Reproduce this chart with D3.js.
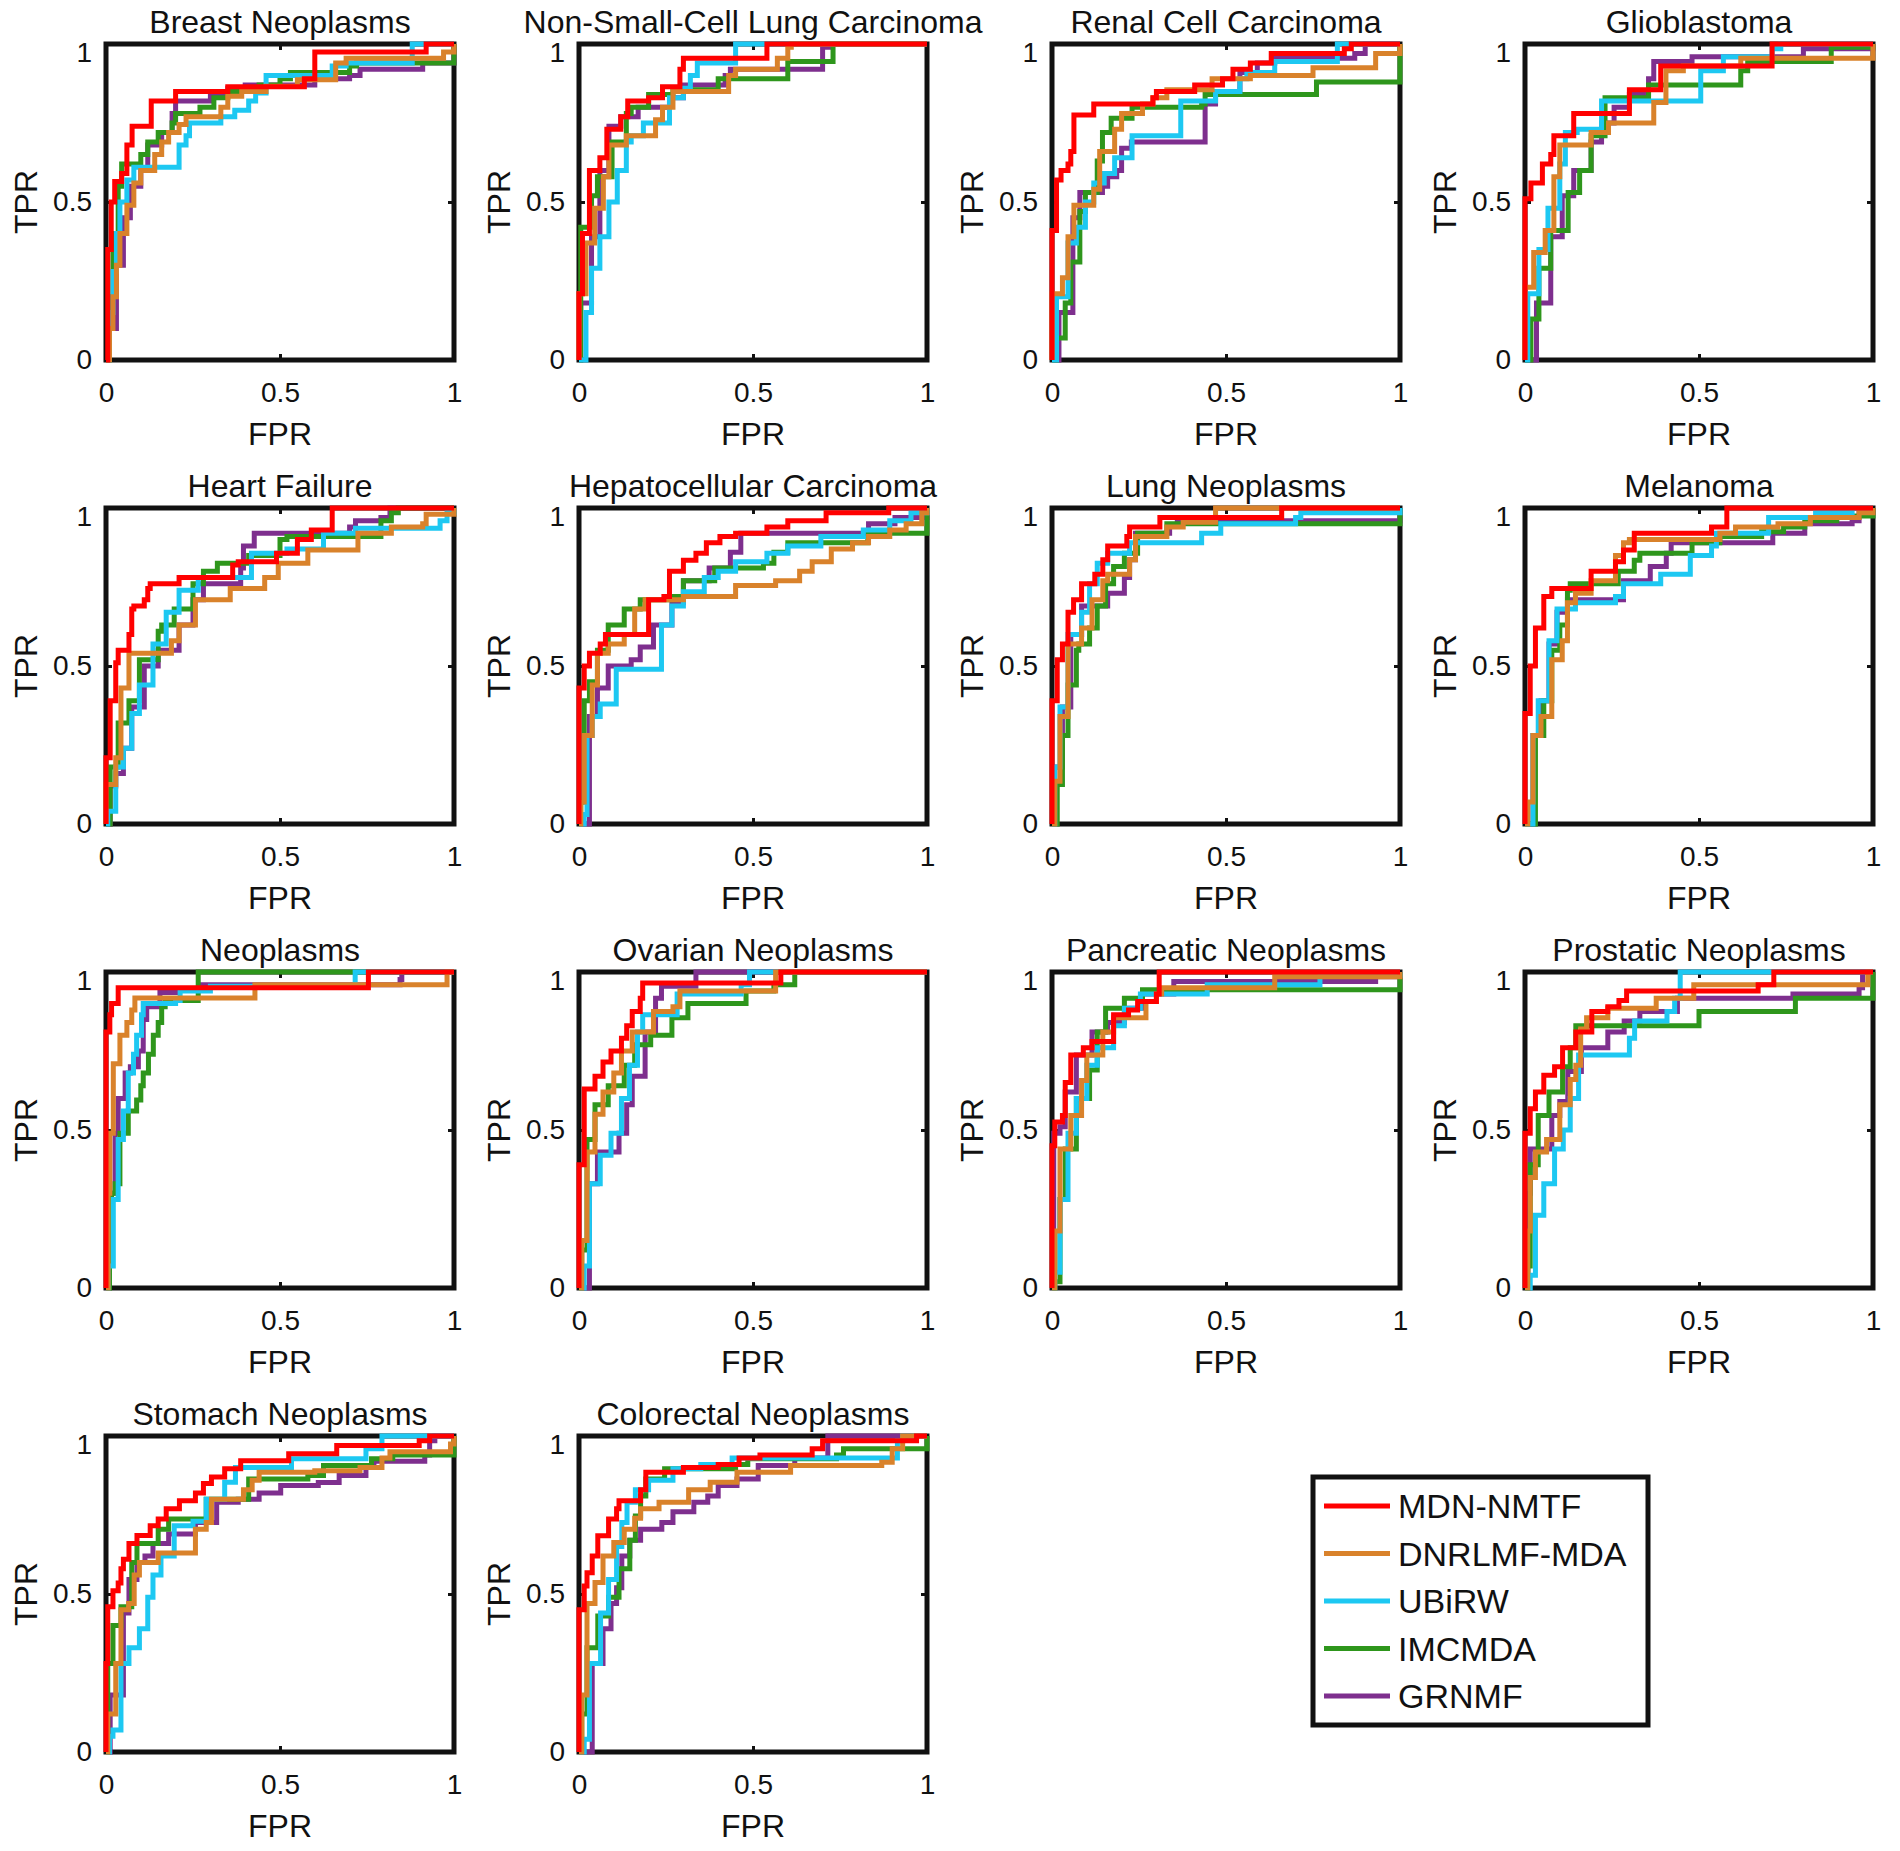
<!DOCTYPE html>
<html>
<head>
<meta charset="utf-8">
<script src="https://cdn.jsdelivr.net/npm/d3@7"></script>
<style>
  html, body { margin: 0; padding: 0; background: #fff; }
  svg { display: block; font-family: "Liberation Sans", Arial, sans-serif; }
</style>
</head>
<body>
<svg id="chart" width="1900" height="1851"></svg>
<script>
// ---------------- data ----------------
const methods = ["MDN-NMTF", "DNRLMF-MDA", "UBiRW", "IMCMDA", "GRNMF"];
const diseases = ["Breast Neoplasms", "Non-Small-Cell Lung Carcinoma", "Renal Cell Carcinoma", "Glioblastoma",
  "Heart Failure", "Hepatocellular Carcinoma", "Lung Neoplasms", "Melanoma",
  "Neoplasms", "Ovarian Neoplasms", "Pancreatic Neoplasms", "Prostatic Neoplasms",
  "Stomach Neoplasms", "Colorectal Neoplasms"];
const tickValues = [0, 0.5, 1];
const tickLabels = ["0", "0.5", "1"];

// each series: flat list of (FPR, TPR) pairs; order = methods
const breastNeoplasms = [
  [0,0, 0.005,0.35, 0.015,0.5, 0.025,0.565, 0.045,0.59, 0.06,0.68, 0.075,0.74, 0.13,0.82, 0.2,0.85, 0.35,0.865, 0.57,0.89, 0.6,0.975, 0.92,1, 1,1],
  [0,0, 0.01,0.1, 0.02,0.2, 0.03,0.3, 0.04,0.4, 0.06,0.49, 0.08,0.56, 0.1,0.6, 0.14,0.65, 0.16,0.69, 0.18,0.72, 0.21,0.745, 0.23,0.77, 0.33,0.8, 0.35,0.835, 0.39,0.85, 0.46,0.866, 0.55,0.887, 0.66,0.94, 0.69,0.955, 0.97,0.975, 1,1],
  [0,0, 0.01,0.15, 0.02,0.28, 0.03,0.4, 0.04,0.5, 0.06,0.57, 0.08,0.61, 0.21,0.68, 0.23,0.71, 0.24,0.75, 0.33,0.77, 0.37,0.79, 0.41,0.82, 0.43,0.845, 0.46,0.9, 0.65,0.93, 0.69,0.94, 0.88,1, 1,1],
  [0,0, 0.01,0.2, 0.02,0.4, 0.035,0.55, 0.045,0.62, 0.1,0.65, 0.12,0.69, 0.15,0.72, 0.19,0.75, 0.2,0.78, 0.27,0.8, 0.31,0.83, 0.35,0.85, 0.44,0.87, 0.5,0.89, 0.53,0.91, 0.7,0.93, 0.72,0.94, 1,0.95, 1,1],
  [0,0, 0.01,0.1, 0.03,0.3, 0.05,0.45, 0.07,0.55, 0.1,0.6, 0.12,0.68, 0.16,0.72, 0.19,0.78, 0.2,0.82, 0.3,0.84, 0.35,0.86, 0.4,0.87, 0.6,0.89, 0.7,0.9, 0.73,0.92, 0.91,0.94, 1,0.96, 1,1]
];
const nonSmallCellLung = [
  [0,0, 0,0.21, 0.01,0.4, 0.03,0.6, 0.06,0.64, 0.08,0.73, 0.12,0.77, 0.14,0.82, 0.2,0.83, 0.24,0.865, 0.29,0.92, 0.3,0.955, 0.54,1, 1,1],
  [0,0, 0,0.21, 0.02,0.37, 0.045,0.48, 0.07,0.58, 0.086,0.68, 0.136,0.71, 0.22,0.76, 0.24,0.8, 0.27,0.85, 0.43,0.9, 0.45,0.92, 0.57,0.955, 0.6,0.99, 0.61,1, 1,1],
  [0,0, 0.02,0.15, 0.036,0.29, 0.06,0.39, 0.086,0.5, 0.11,0.6, 0.136,0.69, 0.15,0.71, 0.185,0.75, 0.26,0.83, 0.3,0.86, 0.32,0.9, 0.34,0.94, 0.45,1, 1,1],
  [0,0, 0.005,0.42, 0.036,0.52, 0.053,0.58, 0.095,0.69, 0.136,0.78, 0.15,0.8, 0.2,0.84, 0.27,0.855, 0.4,0.89, 0.6,0.945, 0.73,1, 1,1],
  [0,0, 0.005,0.18, 0.036,0.39, 0.06,0.6, 0.086,0.74, 0.12,0.77, 0.17,0.8, 0.26,0.83, 0.3,0.87, 0.42,0.9, 0.435,0.92, 0.7,0.99, 0.72,1, 1,1]
];
const renalCell = [
  [0,0, 0,0.41, 0.013,0.57, 0.026,0.6, 0.046,0.62, 0.054,0.66, 0.063,0.775, 0.12,0.81, 0.29,0.83, 0.3,0.85, 0.41,0.87, 0.49,0.89, 0.52,0.92, 0.57,0.94, 0.63,0.97, 0.84,0.985, 0.86,1, 1,1],
  [0,0, 0,0.21, 0.03,0.26, 0.046,0.39, 0.063,0.49, 0.12,0.54, 0.137,0.66, 0.18,0.73, 0.2,0.78, 0.26,0.81, 0.29,0.83, 0.33,0.855, 0.46,0.89, 0.57,0.9, 0.75,0.925, 0.93,0.97, 1,1],
  [0,0, 0.013,0.2, 0.046,0.37, 0.07,0.42, 0.096,0.5, 0.12,0.56, 0.15,0.59, 0.18,0.64, 0.23,0.71, 0.37,0.82, 0.42,0.82, 0.47,0.85, 0.54,0.89, 0.56,0.91, 0.64,0.945, 0.82,1, 1,1],
  [0,0, 0.013,0.07, 0.038,0.18, 0.054,0.31, 0.08,0.47, 0.096,0.53, 0.13,0.63, 0.145,0.72, 0.17,0.765, 0.23,0.8, 0.43,0.81, 0.44,0.84, 0.76,0.88, 1,0.88, 1,1],
  [0,0, 0.02,0.15, 0.06,0.45, 0.08,0.53, 0.145,0.55, 0.16,0.58, 0.186,0.6, 0.2,0.67, 0.228,0.69, 0.42,0.69, 0.44,0.81, 0.47,0.84, 0.54,0.91, 0.59,0.94, 0.64,0.955, 0.87,0.97, 0.9,1, 1,1]
];
const glioblastoma = [
  [0,0, 0,0.51, 0.017,0.56, 0.05,0.62, 0.074,0.65, 0.083,0.71, 0.14,0.78, 0.3,0.855, 0.39,0.93, 0.71,1, 1,1],
  [0,0, 0,0.23, 0.025,0.34, 0.058,0.41, 0.083,0.58, 0.1,0.68, 0.19,0.72, 0.24,0.75, 0.37,0.815, 0.405,0.915, 0.455,0.93, 0.62,0.955, 1,0.965, 1,1],
  [0,0, 0.008,0.21, 0.04,0.35, 0.066,0.48, 0.1,0.62, 0.116,0.72, 0.15,0.73, 0.22,0.82, 0.5,0.82, 0.505,0.915, 0.57,0.96, 0.71,0.985, 0.735,1, 1,1],
  [0,0, 0.017,0.13, 0.04,0.29, 0.074,0.41, 0.124,0.53, 0.157,0.6, 0.19,0.71, 0.23,0.83, 0.355,0.87, 0.62,0.915, 0.64,0.945, 0.88,0.99, 1,1],
  [0,0, 0.017,0, 0.033,0.18, 0.074,0.39, 0.107,0.52, 0.14,0.6, 0.19,0.69, 0.22,0.75, 0.256,0.8, 0.3,0.84, 0.355,0.89, 0.37,0.945, 0.48,0.96, 0.8,0.985, 1,1]
];
const heartFailure = [
  [0,0, 0,0.21, 0.012,0.39, 0.028,0.51, 0.035,0.55, 0.066,0.6, 0.074,0.68, 0.08,0.69, 0.11,0.71, 0.12,0.745, 0.127,0.76, 0.21,0.78, 0.364,0.82, 0.38,0.83, 0.49,0.857, 0.55,0.9, 0.59,0.93, 0.65,1, 1,1],
  [0,0, 0,0.125, 0.028,0.21, 0.043,0.43, 0.066,0.54, 0.188,0.58, 0.21,0.63, 0.257,0.71, 0.357,0.745, 0.456,0.78, 0.495,0.825, 0.58,0.867, 0.724,0.92, 0.82,0.94, 0.91,0.95, 0.92,0.98, 1,0.985, 1,1],
  [0,0, 0.005,0.04, 0.028,0.18, 0.05,0.24, 0.074,0.35, 0.096,0.44, 0.135,0.57, 0.173,0.67, 0.21,0.74, 0.265,0.78, 0.418,0.857, 0.52,0.87, 0.625,0.92, 0.717,0.936, 0.96,0.96, 0.98,0.985, 1,1],
  [0,0, 0.012,0.18, 0.035,0.32, 0.066,0.39, 0.096,0.52, 0.15,0.61, 0.16,0.63, 0.196,0.68, 0.25,0.76, 0.28,0.8, 0.32,0.825, 0.41,0.85, 0.5,0.9, 0.52,0.91, 0.79,0.96, 0.82,0.985, 0.84,1, 1,1],
  [0,0, 0.005,0, 0.012,0.12, 0.028,0.16, 0.05,0.24, 0.074,0.37, 0.11,0.5, 0.15,0.55, 0.21,0.63, 0.25,0.71, 0.28,0.76, 0.387,0.81, 0.395,0.88, 0.426,0.92, 0.7,0.94, 0.717,0.96, 0.79,0.97, 0.816,1, 1,1]
];
const hepatocellular = [
  [0,0, 0,0.43, 0.015,0.5, 0.03,0.54, 0.061,0.57, 0.076,0.6, 0.2,0.71, 0.244,0.72, 0.26,0.8, 0.3,0.835, 0.336,0.857, 0.366,0.89, 0.405,0.91, 0.45,0.92, 0.54,0.94, 0.6,0.96, 0.71,0.985, 0.89,1, 1,1],
  [0,0, 0.005,0.07, 0.015,0.28, 0.038,0.44, 0.053,0.54, 0.084,0.57, 0.13,0.6, 0.16,0.68, 0.19,0.71, 0.3,0.72, 0.45,0.755, 0.565,0.77, 0.634,0.8, 0.67,0.83, 0.725,0.87, 0.786,0.89, 0.832,0.91, 0.893,0.93, 0.94,0.95, 0.985,0.985, 1,1],
  [0,0, 0.015,0.03, 0.023,0.28, 0.038,0.34, 0.061,0.38, 0.107,0.49, 0.237,0.63, 0.267,0.69, 0.3,0.735, 0.36,0.78, 0.4,0.8, 0.45,0.83, 0.54,0.857, 0.6,0.88, 0.695,0.91, 0.817,0.93, 0.893,0.96, 0.954,0.985, 1,1],
  [0,0, 0.005,0.07, 0.015,0.39, 0.03,0.45, 0.053,0.55, 0.084,0.63, 0.13,0.68, 0.176,0.71, 0.27,0.72, 0.3,0.77, 0.39,0.81, 0.53,0.825, 0.56,0.86, 0.6,0.89, 0.83,0.92, 1,0.93, 1,1],
  [0,0, 0.008,0, 0.03,0.34, 0.053,0.43, 0.084,0.5, 0.15,0.52, 0.176,0.56, 0.214,0.63, 0.267,0.7, 0.3,0.77, 0.374,0.81, 0.435,0.86, 0.465,0.92, 0.756,0.92, 0.832,0.95, 0.908,0.97, 1,0.99, 1,1]
];
const lungNeoplasms = [
  [0,0, 0,0.39, 0.015,0.52, 0.03,0.57, 0.046,0.67, 0.062,0.71, 0.085,0.76, 0.123,0.79, 0.146,0.836, 0.16,0.88, 0.215,0.91, 0.223,0.94, 0.31,0.97, 0.66,1, 1,1],
  [0,0, 0.008,0.135, 0.023,0.34, 0.046,0.57, 0.085,0.62, 0.115,0.71, 0.146,0.77, 0.16,0.79, 0.223,0.836, 0.24,0.91, 0.33,0.94, 0.377,0.955, 0.47,1, 1,1],
  [0,0, 0.008,0.18, 0.023,0.37, 0.046,0.6, 0.085,0.67, 0.108,0.76, 0.13,0.825, 0.16,0.857, 0.223,0.89, 0.43,0.92, 0.485,0.95, 0.7,0.97, 0.715,0.985, 1,0.99, 1,1],
  [0,0, 0.015,0.125, 0.03,0.28, 0.046,0.44, 0.07,0.55, 0.077,0.57, 0.108,0.62, 0.13,0.69, 0.154,0.76, 0.177,0.815, 0.208,0.857, 0.246,0.92, 0.33,0.95, 1,0.97, 1,1],
  [0,0, 0.008,0.18, 0.03,0.37, 0.054,0.6, 0.085,0.69, 0.16,0.73, 0.208,0.78, 0.223,0.836, 0.24,0.92, 0.338,0.947, 0.36,0.96, 1,0.96, 1,1]
];
const melanoma = [
  [0,0, 0,0.35, 0.015,0.5, 0.03,0.62, 0.054,0.72, 0.077,0.745, 0.19,0.8, 0.26,0.83, 0.283,0.867, 0.314,0.92, 0.536,0.94, 0.58,1, 1,1],
  [0,0, 0.008,0.07, 0.023,0.28, 0.046,0.34, 0.077,0.52, 0.107,0.58, 0.122,0.7, 0.145,0.73, 0.19,0.77, 0.26,0.85, 0.283,0.89, 0.3,0.9, 0.56,0.92, 0.605,0.94, 0.727,0.95, 0.82,0.97, 0.96,0.985, 1,1],
  [0,0, 0.015,0, 0.023,0.28, 0.038,0.39, 0.069,0.58, 0.092,0.68, 0.145,0.7, 0.26,0.72, 0.283,0.76, 0.39,0.79, 0.475,0.85, 0.536,0.88, 0.55,0.92, 0.7,0.97, 0.835,0.985, 0.94,1, 1,1],
  [0,0, 0.015,0, 0.03,0.28, 0.054,0.39, 0.077,0.55, 0.1,0.63, 0.122,0.74, 0.13,0.76, 0.268,0.8, 0.314,0.835, 0.33,0.857, 0.48,0.89, 0.56,0.91, 0.68,0.925, 0.743,0.94, 0.804,0.96, 0.896,0.975, 1,0.985, 1,1],
  [0,0, 0.015,0, 0.023,0.28, 0.046,0.39, 0.069,0.57, 0.092,0.67, 0.122,0.71, 0.283,0.77, 0.36,0.815, 0.406,0.857, 0.42,0.89, 0.712,0.92, 0.804,0.95, 0.94,0.96, 0.96,0.985, 1,1]
];
const neoplasms = [
  [0,0, 0,0.81, 0.011,0.865, 0.016,0.9, 0.035,0.95, 0.754,1, 1,1],
  [0,0, 0.006,0.3, 0.011,0.49, 0.021,0.71, 0.04,0.8, 0.06,0.84, 0.074,0.88, 0.083,0.918, 0.428,0.96, 0.98,1, 1,1],
  [0,0, 0.006,0.07, 0.021,0.28, 0.035,0.47, 0.05,0.56, 0.064,0.68, 0.079,0.74, 0.088,0.8, 0.102,0.865, 0.107,0.9, 0.2,0.91, 0.213,0.94, 0.3,0.955, 0.716,1, 1,1],
  [0,0, 0.01,0.12, 0.016,0.3, 0.026,0.33, 0.04,0.49, 0.064,0.56, 0.088,0.595, 0.1,0.64, 0.107,0.68, 0.122,0.74, 0.136,0.8, 0.15,0.84, 0.16,0.89, 0.17,0.91, 0.265,1, 1,1],
  [0,0, 0.006,0.1, 0.015,0.3, 0.026,0.49, 0.035,0.6, 0.055,0.68, 0.07,0.7, 0.093,0.75, 0.107,0.85, 0.117,0.89, 0.155,0.935, 0.2,0.945, 0.27,0.96, 0.845,0.976, 0.85,1, 1,1]
];
const ovarianNeoplasms = [
  [0,0, 0,0.39, 0.015,0.63, 0.046,0.67, 0.069,0.715, 0.092,0.75, 0.122,0.79, 0.137,0.83, 0.153,0.875, 0.176,0.917, 0.183,0.965, 0.58,1, 1,1],
  [0,0, 0.008,0.15, 0.023,0.43, 0.046,0.55, 0.069,0.62, 0.1,0.68, 0.122,0.75, 0.153,0.81, 0.214,0.875, 0.27,0.89, 0.29,0.94, 0.565,1, 1,1],
  [0,0, 0.015,0.07, 0.03,0.33, 0.061,0.42, 0.092,0.49, 0.122,0.6, 0.145,0.705, 0.168,0.81, 0.183,0.865, 0.282,0.93, 0.466,0.96, 0.49,1, 1,1],
  [0,0, 0.008,0.12, 0.023,0.47, 0.046,0.58, 0.084,0.64, 0.13,0.705, 0.16,0.77, 0.206,0.8, 0.267,0.855, 0.313,0.9, 0.48,0.94, 0.56,0.96, 0.62,1, 1,1],
  [0,0, 0.015,0, 0.03,0.33, 0.053,0.43, 0.115,0.49, 0.137,0.58, 0.153,0.67, 0.19,0.81, 0.22,0.917, 0.237,0.955, 0.336,1, 1,1]
];
const pancreaticNeoplasms = [
  [0,0, 0,0.45, 0.008,0.525, 0.03,0.546, 0.038,0.65, 0.054,0.737, 0.09,0.76, 0.115,0.78, 0.177,0.865, 0.22,0.88, 0.246,0.907, 0.3,0.93, 0.308,1, 1,1],
  [0,0, 0.008,0.18, 0.023,0.44, 0.054,0.546, 0.085,0.657, 0.1,0.737, 0.146,0.81, 0.177,0.855, 0.27,0.907, 0.3,0.93, 0.315,0.95, 0.64,0.985, 1,0.99, 1,1],
  [0,0, 0.008,0.05, 0.023,0.28, 0.046,0.49, 0.07,0.6, 0.1,0.705, 0.13,0.76, 0.177,0.83, 0.208,0.885, 0.254,0.93, 0.446,0.96, 0.77,0.99, 1,1],
  [0,0, 0.008,0.02, 0.023,0.28, 0.038,0.44, 0.07,0.6, 0.108,0.69, 0.13,0.81, 0.154,0.885, 0.208,0.917, 0.26,0.944, 1,0.944, 1,1],
  [0,0, 0.005,0.49, 0.023,0.51, 0.038,0.62, 0.07,0.737, 0.115,0.81, 0.16,0.84, 0.208,0.885, 0.26,0.93, 0.35,0.97, 0.93,0.985, 1,1]
];
const prostaticNeoplasms = [
  [0,0, 0,0.49, 0.015,0.567, 0.03,0.62, 0.054,0.673, 0.085,0.7, 0.108,0.76, 0.146,0.81, 0.192,0.875, 0.238,0.89, 0.27,0.91, 0.292,0.94, 0.67,0.96, 0.715,1, 1,1],
  [0,0, 0.008,0.18, 0.015,0.35, 0.03,0.43, 0.062,0.47, 0.1,0.58, 0.13,0.66, 0.146,0.705, 0.16,0.82, 0.177,0.855, 0.238,0.885, 0.377,0.917, 0.485,0.96, 0.985,1, 1,1],
  [0,0, 0.015,0.04, 0.03,0.23, 0.054,0.33, 0.085,0.44, 0.11,0.5, 0.13,0.6, 0.154,0.737, 0.3,0.79, 0.315,0.845, 0.408,0.875, 0.43,0.917, 0.446,1, 1,1],
  [0,0, 0.008,0.07, 0.015,0.39, 0.038,0.546, 0.069,0.62, 0.108,0.7, 0.13,0.76, 0.146,0.83, 0.5,0.875, 0.777,0.917, 1,0.93, 1,1],
  [0,0, 0.008,0.3, 0.015,0.44, 0.054,0.44, 0.077,0.546, 0.1,0.59, 0.123,0.685, 0.162,0.76, 0.238,0.81, 0.285,0.845, 0.33,0.875, 0.438,0.917, 0.77,0.93, 0.96,0.95, 0.97,1, 1,1]
];
const stomachNeoplasms = [
  [0,0, 0,0.28, 0.005,0.46, 0.02,0.51, 0.035,0.535, 0.043,0.58, 0.05,0.61, 0.066,0.66, 0.089,0.685, 0.127,0.716, 0.15,0.737, 0.173,0.77, 0.211,0.795, 0.257,0.82, 0.28,0.85, 0.303,0.87, 0.341,0.896, 0.387,0.922, 0.525,0.944, 0.663,0.97, 0.9,0.985, 0.93,1, 1,1],
  [0,0, 0.005,0.12, 0.028,0.28, 0.043,0.45, 0.065,0.47, 0.081,0.56, 0.096,0.6, 0.15,0.63, 0.257,0.705, 0.288,0.726, 0.303,0.8, 0.395,0.83, 0.42,0.86, 0.44,0.885, 0.6,0.89, 0.73,0.9, 0.793,0.93, 0.816,0.95, 0.99,0.975, 1,1],
  [0,0, 0.01,0.05, 0.02,0.07, 0.043,0.28, 0.066,0.33, 0.096,0.39, 0.12,0.49, 0.135,0.56, 0.158,0.62, 0.196,0.716, 0.25,0.73, 0.288,0.8, 0.341,0.854, 0.372,0.9, 0.533,0.928, 0.747,0.96, 0.793,1, 1,1],
  [0,0, 0.005,0.28, 0.02,0.4, 0.043,0.46, 0.074,0.6, 0.089,0.66, 0.15,0.705, 0.18,0.737, 0.288,0.8, 0.41,0.864, 0.58,0.875, 0.625,0.907, 0.763,0.928, 0.824,0.94, 1,0.94, 1,1],
  [0,0, 0.012,0.18, 0.05,0.44, 0.066,0.546, 0.089,0.6, 0.112,0.62, 0.135,0.66, 0.18,0.69, 0.257,0.726, 0.318,0.79, 0.38,0.8, 0.44,0.82, 0.502,0.843, 0.61,0.853, 0.67,0.875, 0.747,0.907, 0.77,0.92, 0.916,0.94, 0.93,0.985, 0.945,1, 1,1]
];
const colorectalNeoplasms = [
  [0,0, 0,0.45, 0.015,0.525, 0.023,0.567, 0.038,0.62, 0.054,0.684, 0.085,0.737, 0.108,0.77, 0.115,0.795, 0.177,0.83, 0.192,0.885, 0.3,0.9, 0.4,0.91, 0.46,0.93, 0.52,0.94, 0.67,0.96, 0.7,0.985, 0.97,1, 1,1],
  [0,0, 0.008,0.18, 0.023,0.47, 0.046,0.536, 0.069,0.62, 0.1,0.663, 0.13,0.705, 0.16,0.74, 0.177,0.77, 0.23,0.79, 0.315,0.83, 0.377,0.854, 0.454,0.885, 0.608,0.907, 0.87,0.917, 0.9,0.96, 0.93,1, 1,1],
  [0,0, 0.015,0.04, 0.03,0.28, 0.062,0.44, 0.085,0.546, 0.108,0.65, 0.123,0.726, 0.138,0.79, 0.162,0.83, 0.2,0.86, 0.27,0.896, 0.35,0.91, 0.44,0.93, 0.915,0.985, 0.93,1, 1,1],
  [0,0, 0.008,0.12, 0.023,0.33, 0.054,0.43, 0.085,0.49, 0.115,0.58, 0.146,0.67, 0.162,0.747, 0.177,0.81, 0.192,0.864, 0.246,0.896, 0.45,0.91, 0.485,0.928, 0.74,0.94, 0.76,0.96, 1,0.96, 1,1],
  [0,0, 0.023,0, 0.038,0.28, 0.069,0.39, 0.092,0.47, 0.108,0.52, 0.123,0.62, 0.146,0.67, 0.177,0.705, 0.238,0.726, 0.27,0.76, 0.33,0.79, 0.37,0.81, 0.4,0.843, 0.454,0.864, 0.515,0.907, 0.62,0.93, 0.715,1, 1,1]
];
const panelCurves = [breastNeoplasms, nonSmallCellLung, renalCell, glioblastoma,
  heartFailure, hepatocellular, lungNeoplasms, melanoma,
  neoplasms, ovarianNeoplasms, pancreaticNeoplasms, prostaticNeoplasms,
  stomachNeoplasms, colorectalNeoplasms];

// ---------------- style / layout ----------------
const colors = ["#FF0000", "#D9822B", "#1DC8F2", "#2E961C", "#7E2F8E"];
const plotW = 348, plotH = 316;
const left0 = 106, top0 = 44, colStep = 473, rowStep = 464;
const FONT = '"Liberation Sans", Arial, Helvetica, sans-serif';

const svg = d3.select("#chart");
const x = d3.scaleLinear().domain([0, 1]).range([0, plotW]);
const y = d3.scaleLinear().domain([0, 1]).range([plotH, 0]);
const line = d3.line().x(d => x(d[0])).y(d => y(d[1])).curve(d3.curveStepAfter);
const toPairs = arr => d3.range(0, arr.length, 2).map(i => [arr[i], arr[i + 1]]);
const fmt = v => tickLabels[tickValues.indexOf(v)];

diseases.forEach((name, i) => {
  const col = i % 4, row = Math.floor(i / 4);
  const g = svg.append("g").attr("transform", `translate(${left0 + col * colStep},${top0 + row * rowStep})`);

  // box
  g.append("rect").attr("x", 0).attr("y", 0).attr("width", plotW).attr("height", plotH)
    .attr("fill", "none").attr("stroke", "#111").attr("stroke-width", 5);

  // axes (ticks inward)
  const ax = [
    g.append("g").attr("transform", `translate(0,${plotH})`)
      .call(d3.axisBottom(x).tickValues(tickValues).tickFormat(fmt).tickSizeInner(-6).tickSizeOuter(0).tickPadding(22)),
    g.append("g")
      .call(d3.axisLeft(y).tickValues(tickValues).tickFormat(fmt).tickSizeInner(-6).tickSizeOuter(0).tickPadding(14)),
    g.append("g")
      .call(d3.axisTop(x).tickValues(tickValues).tickFormat("").tickSizeInner(-6).tickSizeOuter(0)),
    g.append("g").attr("transform", `translate(${plotW},0)`)
      .call(d3.axisRight(y).tickValues(tickValues).tickFormat("").tickSizeInner(-6).tickSizeOuter(0))
  ];
  ax.forEach(a => {
    a.select(".domain").remove();
    a.selectAll("line").attr("stroke", "#111").attr("stroke-width", 3);
    a.selectAll("text").attr("font-family", FONT).attr("font-size", 28).attr("fill", "#111");
  });
  // top y-label sits slightly below its tick, as in the reference
  ax[1].selectAll(".tick").filter(d => d === 1).select("text").attr("dy", "0.62em");

  // curves (legend order reversed so MDN-NMTF is on top)
  const curves = panelCurves[i];
  for (let k = curves.length - 1; k >= 0; k--) {
    g.append("path").attr("d", line(toPairs(curves[k])))
      .attr("fill", "none").attr("stroke", colors[k]).attr("stroke-width", 5)
      .attr("stroke-linejoin", "miter");
  }

  // labels
  g.append("text").attr("x", plotW / 2).attr("y", -11).attr("text-anchor", "middle")
    .attr("font-family", FONT).attr("font-size", 32).attr("fill", "#111").text(name);
  g.append("text").attr("x", plotW / 2).attr("y", plotH + 85).attr("text-anchor", "middle")
    .attr("font-family", FONT).attr("font-size", 32).attr("fill", "#111").text("FPR");
  g.append("text").attr("transform", `translate(-69,${plotH / 2}) rotate(-90)`).attr("text-anchor", "middle")
    .attr("font-family", FONT).attr("font-size", 32).attr("fill", "#111").text("TPR");
});

// legend
const lg = svg.append("g").attr("transform", "translate(1313,1477)");
lg.append("rect").attr("width", 335).attr("height", 248).attr("fill", "#fff")
  .attr("stroke", "#111").attr("stroke-width", 5);
methods.forEach((m, k) => {
  const yy = 29 + k * 47.5;
  lg.append("line").attr("x1", 11).attr("x2", 77).attr("y1", yy).attr("y2", yy)
    .attr("stroke", colors[k]).attr("stroke-width", 5);
  lg.append("text").attr("x", 85).attr("y", yy + 12).attr("font-family", FONT)
    .attr("font-size", 34).attr("fill", "#111").text(m);
});
</script>
</body>
</html>
